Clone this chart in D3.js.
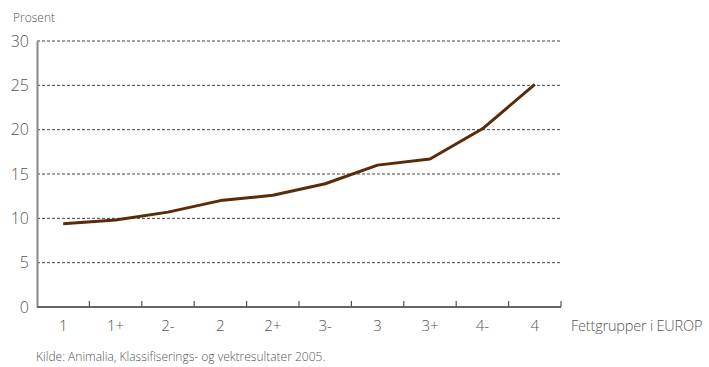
<!DOCTYPE html>
<html>
<head>
<meta charset="utf-8">
<script src="https://cdn.jsdelivr.net/npm/d3@7"></script>
<style>
  body { margin: 0; background: #fff; }
  svg text { font-family: "Open Sans", sans-serif; fill: #555; }
</style>
</head>
<body>
<svg id="chart" width="709" height="367"></svg>
<script>
// Fat class groups (EUROP) and share in percent
const categories = ["1", "1+", "2-", "2", "2+", "3-", "3", "3+", "4-", "4"];
const values = [9.4, 9.8, 10.7, 12.0, 12.6, 13.9, 16.0, 16.7, 20.1, 25.1];
const yTicks = [0, 5, 10, 15, 20, 25, 30];

const svg = d3.select("#chart");
const plotLeft = 37, plotRight = 561, plotTop = 41, plotBottom = 307;

const x = d3.scaleBand().domain(categories).range([plotLeft, plotRight]).padding(0);
const y = d3.scaleLinear().domain([0, 30]).range([plotBottom, plotTop]);

// Dotted horizontal gridlines
svg.append("g")
  .selectAll("line")
  .data(yTicks.filter(d => d > 0))
  .join("line")
  .attr("x1", plotLeft).attr("x2", plotRight)
  .attr("y1", d => y(d)).attr("y2", d => y(d))
  .attr("stroke", "#444")
  .attr("stroke-width", 1)
  .attr("stroke-dasharray", "3,2");

// Y axis
const yAxis = svg.append("g")
  .attr("transform", `translate(${plotLeft},0)`)
  .call(d3.axisLeft(y).tickValues(yTicks).tickSize(0).tickPadding(8));
yAxis.select(".domain").attr("stroke", "#888").attr("stroke-width", 2);
yAxis.selectAll("text")
  .style("font-size", "16px")
  .style("font-weight", "300")
  .attr("fill", "#555");

// X axis line with upward ticks at band boundaries
svg.append("line")
  .attr("x1", plotLeft).attr("x2", plotRight)
  .attr("y1", plotBottom).attr("y2", plotBottom)
  .attr("stroke", "#666").attr("stroke-width", 2);

const boundaries = categories.slice(1).map(c => x(c)).concat([plotRight]);
svg.append("g")
  .selectAll("line")
  .data(boundaries)
  .join("line")
  .attr("x1", d => d).attr("x2", d => d)
  .attr("y1", plotBottom).attr("y2", plotBottom - 6)
  .attr("stroke", "#555").attr("stroke-width", 1.2);

svg.append("g")
  .selectAll("text")
  .data(categories)
  .join("text")
  .attr("x", d => x(d) + x.bandwidth() / 2)
  .attr("y", plotBottom + 24)
  .attr("text-anchor", "middle")
  .style("font-size", "15px")
  .style("font-weight", "300")
  .text(d => d);

// Data line
svg.append("path")
  .datum(values)
  .attr("fill", "none")
  .attr("stroke", "#5b2a08")
  .attr("stroke-width", 3)
  .attr("stroke-linejoin", "round")
  .attr("d", d3.line()
    .x((d, i) => x(categories[i]) + x.bandwidth() / 2)
    .y(d => y(d)));

// Labels
svg.append("text")
  .attr("x", 13).attr("y", 22)
  .style("font-size", "12px")
  .style("font-weight", "300")
  .text("Prosent");

svg.append("text")
  .attr("x", 571).attr("y", plotBottom + 24)
  .style("font-size", "14.5px")
  .style("font-weight", "300")
  .style("letter-spacing", "-0.2px")
  .text("Fettgrupper i EUROP");

svg.append("text")
  .attr("x", 36).attr("y", 361)
  .style("font-size", "12px")
  .style("font-weight", "300")
  .text("Kilde: Animalia, Klassifiserings- og vektresultater 2005.");
</script>
</body>
</html>
